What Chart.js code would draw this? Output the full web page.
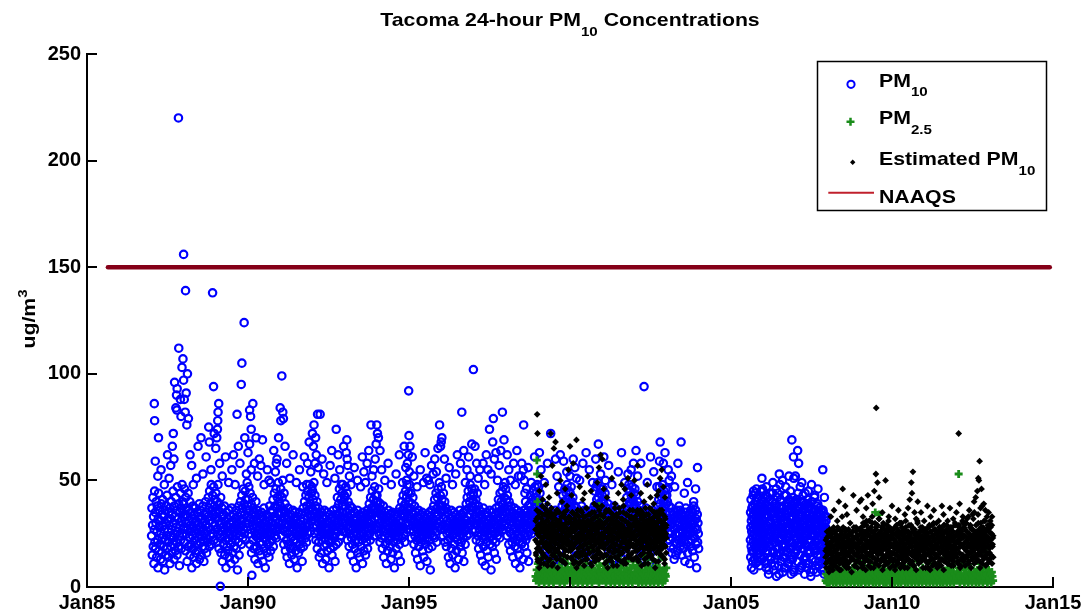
<!DOCTYPE html>
<html><head><meta charset="utf-8">
<script src="https://cdn.jsdelivr.net/npm/chart.js@4.4.1/dist/chart.umd.min.js"></script>
<style>html,body{margin:0;padding:0;background:#fff;}#wrap{width:1086px;height:613px;}</style>
</head><body><div id="wrap"><canvas id="c" width="1086" height="613"></canvas></div>
<script>
// ---------------- DATA ----------------
const xTicks = [1985, 1990, 1995, 2000, 2005, 2010, 2015];
const yTicks = [0, 50, 100, 150, 200, 250];
const naaqsDates = [1985.65, 2014.9];
const naaqsValues = [150, 150];

// PM10 samples (uniform sampling within each period)
const pm10_1987 = [24,37,15,29,42,19,33,11,27,45,21,35,18,30,40,14,26,38,22,9,32,44,17,28,36,20,31,13,25,39,16,34,23,41,12,29,19,33,27,8,36,22,30,15,38,24,43,18,31,26,14,35,21,29,37,11,24,32,19,40,27,16,34,23,45,20,30,13,38,25,33,17,42,28,21,36,15,47,26,32,19,39,24,10,35,29,44,22,37,18,31,48,25,40,33,27];
const pm10_1988 = [39,28,46,21,34,17,42,30,25,37,12,33,27,44,19,31,36,23,40,15,29,35,20,26,9,32,24,38,18,28,14,34,22,30,37,16,25,31,11,27,35,20,29,17,33,23,39,13,28,21,36,26,15,32,24,30,19,38,22,27,12,34,25,18,31,40,23,29,16,35,26,21,33,42,28,37,19,45,31,24,39,27,48,20,36,30,43,25,34,47,22,38,29,41,32,35];
const pm10_1989 = [44,33,27,40,21,36,48,25,31,18,39,29,35,23,42,16,30,26,37,12,33,28,20,34,24,38,15,27,31,22,9,29,35,19,26,32,17,28,23,36,14,30,25,20,33,11,27,37,21,31,16,24,34,28,19,26,13,32,22,29,36,18,25,30,8,27,33,21,38,15,28,24,31,40,26,35,20,43,29,37,23,46,32,27,39,25,34,45,22,41,30,36,28,49,33,38];
const pm10_1990 = [41,30,47,25,36,20,44,32,27,39,16,34,29,42,22,37,31,18,35,26,13,33,24,40,28,19,31,36,23,11,30,25,34,17,27,21,32,24,15,29,35,20,26,33,12,28,23,37,18,30,25,9,31,22,27,34,16,29,24,20,33,26,14,31,38,21,28,17,35,25,30,22,36,27,41,19,33,29,44,24,38,31,26,46,23,37,32,42,28,35,49,30,40,34,27,43];
const pm10_1991 = [38,46,29,35,24,42,31,50,27,36,20,44,33,26,39,17,30,35,22,28,14,32,25,37,20,29,33,11,26,31,18,34,23,28,15,30,24,36,19,27,32,13,29,22,35,17,25,31,21,28,9,33,24,30,16,27,35,20,26,23,31,18,29,34,22,12,28,25,37,19,32,26,40,27,35,23,43,30,21,38,28,45,33,25,36,42,29,48,34,39,26,44,31,37,47,33];
const pm10_1992 = [45,36,41,28,49,33,25,43,31,38,22,35,29,40,18,33,26,37,21,30,14,34,27,24,31,16,28,35,22,26,11,32,25,29,19,36,23,30,27,13,33,20,28,35,17,25,31,22,27,9,30,24,34,18,26,32,21,29,15,33,24,28,36,19,31,23,27,12,34,25,30,20,37,29,42,26,34,21,39,31,46,28,35,24,41,33,27,44,38,30,48,35,26,40,32,43];
const pm10_1993 = [42,31,38,47,26,35,29,44,22,33,40,27,36,19,31,25,38,28,15,34,23,30,37,20,27,32,12,29,24,35,18,26,31,22,9,33,25,28,36,16,30,21,27,34,14,29,24,31,19,26,33,22,28,11,35,25,30,17,27,32,23,29,15,34,26,21,31,36,18,28,24,33,30,39,25,35,22,42,28,37,31,27,45,34,29,41,36,24,38,47,32,43,27,35,40,33];
const pm10_1994 = [43,35,28,40,32,46,25,37,30,21,39,34,27,36,23,31,18,33,29,38,14,26,32,24,35,20,30,27,11,33,25,29,17,31,36,22,28,24,34,19,30,26,13,32,23,28,35,16,25,31,21,29,9,27,34,24,30,18,26,33,22,29,35,15,28,24,31,20,37,26,12,30,34,27,40,23,36,31,43,28,25,38,33,21,39,45,30,35,42,27,48,33,37,29,44,36];
const pm10_1995 = [40,48,33,37,27,44,31,23,39,35,29,42,26,34,20,31,38,24,28,16,35,30,22,33,27,13,30,25,36,19,29,32,23,10,28,34,21,30,26,35,17,27,31,24,14,29,33,22,28,20,32,25,30,12,34,27,23,31,18,26,35,22,29,8,33,25,28,36,19,30,24,32,27,38,31,23,41,29,35,26,44,33,21,37,42,30,46,34,28,39,49,31,36,43,27,38];
const pm10_1996 = [47,35,41,29,38,24,44,32,36,27,40,21,33,28,37,19,31,25,35,22,29,14,34,26,30,23,11,32,27,36,18,28,24,33,15,30,25,29,35,20,27,9,31,23,34,17,28,32,22,30,26,13,33,24,29,36,19,27,31,21,28,34,16,25,30,23,35,12,29,26,32,20,36,27,39,31,24,42,33,28,45,30,37,25,40,34,48,29,43,36,31,46,38,27,41,44];
const pm10_1997 = [43,37,30,46,26,39,33,41,22,35,29,44,31,24,38,18,33,27,36,21,30,15,34,25,28,32,12,29,23,37,19,26,31,24,34,10,27,30,21,35,17,28,33,25,14,31,23,29,36,20,27,32,8,30,24,35,19,28,22,33,26,31,16,29,25,34,21,37,13,28,32,24,35,29,41,26,38,31,23,44,33,28,40,36,30,45,34,39,27,47,32,42,37,29,49,35];
const pm10_1998 = [46,30,41,35,24,43,28,38,32,20,40,26,36,31,17,38,25,33,29,21,35,14,30,27,32,23,37,19,28,11,34,26,30,22,36,18,29,24,33,15,31,27,9,35,23,28,32,20,26,34,21,30,13,28,25,36,19,31,24,33,22,29,35,16,27,32,24,38,12,30,26,34,39,28,43,31,36,25,41,33,29,45,35,27,40,37,30,47,34,42,28,44,38,32,48,36];
const pm10_1999 = [41,33,47,26,38,30,44,22,36,29,34,19,31,27,39,17,30,24,36,21,32,28,14,33,25,35,20,29,23,37,11,31,27,34,18,30,26,33,22,28,15,35,24,31,9,29,21,34,27,32,19,25,36,23,30,13,28,33,20,26,34,22,29,31,17,27,35,24,30,12,32,25,38,29,43,33,27,40,35,30,46,31,37,28,44,36,32,48,39,29,42,34,45,38,31,40];
const pm10_2000 = [44,37,29,47,24,40,34,27,42,20,36,31,33,25,38,17,34,28,22,37,15,30,26,35,21,31,28,13,35,24,29,19,32,26,38,23,30,25,34,11,28,33,21,36,27,18,31,24,29,35,16,27,32,22,30,9,34,25,28,20,33,26,31,14,29,36,23,27,32,18,35,25,38,45,28,36,32,47,25,41,30,37,49,34,42,31,39,27,44,35,29,46,33,40,36,43];
const pm10_2001 = [41,32,46,28,39,24,36,30,44,20,34,29,30,37,19,33,26,39,17,29,24,35,21,31,27,15,33,23,28,36,12,30,25,34,22,38,26,31,18,29,35,23,27,10,32,24,30,20,28,33,21,36,25,16,30,27,34,19,29,23,35,26,31,13,28,32,22,37,25,29,18,33,36,42,29,46,26,38,32,48,27,40,34,45,30,39,43,28,35,47,31,41,37,33,44,38];
const pm10_2002 = [39,46,28,37,32,43,23,35,29,40,18,33,28,36,23,31,20,38,26,15,32,24,30,19,34,21,29,25,13,35,27,20,31,23,37,28,22,30,26,16,33,29,24,35,11,27,31,21,29,34,19,26,32,23,36,17,28,25,30,22,33,18,27,31,24,35,14,29,26,32,20,28,41,32,47,26,39,30,44,35,22,42,37,48,36,29,40,33,45,27,38,43,31,46,34,39];
const pm10_2003 = [43,34,40,28,46,31,25,38,22,35,29,19,32,26,37,16,30,23,34,18,28,32,13,27,21,33,25,15,31,20,36,24,29,17,34,22,30,38,25,32,19,36,27,21,34,15,29,23,26,31,18,28,33,22,12,30,25,35,20,27,24,29,16,32,26,21,34,28,11,25,31,19,27,33,22,29,35,17,30,24,38,26,14,31,23,28,36,20,32,9,27,34,21,30,25,18];
const pm10_2005 = [22,35,14,28,41,19,31,9,26,37,17,33,24,12,38,29,21,43,16,34,27,8,32,20,39,25,13,30,36,18,44,23,11,35,28,40,19,33,46,26,30,17,37,24,15,32,27,21,42,12,29,35,20,26,38,16,31,23,10,34,28,19,36,25,14,33,22,39,30,18,27,41,24,13,35,29,20,45,31,37];
const pm10_2006 = [31,18,40,25,12,36,22,43,9,29,34,16,38,21,27,6,33,19,41,24,14,30,37,11,26,35,20,44,17,28,8,32,23,39,13,27,36,21,5,30,18,42,25,15,34,10,28,38,22,33,16,40,26,12,35,19,29,7,37,24,31,14,43,20,27,9,34,17,39,23,30,11,36,25,18,41,28,13,32,45,21,6,38,26,15,33,42,19,29,8,35,24,40,16];
const pm10_2006b = [26,14,33,20,39,11,29,23,36,17,42,25,8,31,19,37,27,13,34,22,40,16,28,35,21,10,30,24,38,15,32,26,44,18,29,6,35,23,41,12,27,33,20,37,14,30,25,9,34,19,28,43,22,31,16,38,24,11,33,27,40,18,29,21,36,13,32,25,7,30,39,23];
const pm10_2007 = [34,22,41,17,29,38,12,26,44,19,33,8,37,24,30,15,40,21,27,10,35,18,31,43,23,13,36,28,6,32,20,39,25,14,34,9,29,41,17,26,37,11,30,22,38,16,27,5,33,24,40,13,28,19,35,8,31,25,42,18,29,12,36,21,27,7,34,23,39,15,30,10,26,37,19,32,14,28,24,36,11,31,20,9,27,35,17,25,6,30,22,13,28,18,33,24];
const pm10_2007b = [29,17,36,23,41,12,31,25,38,15,27,34,20,9,33,26,40,18,30,22,37,14,28,35,11,24,32,19,39,27,16,34,21,29,7,31,25,37,13,28,33,20,36,17,30,24,10,32,26,38,15,29,22,35,12,27,31,19,34,23,8,30,25,36,18,28,21,33,14,26,31,20];
// PM10 individually read points (high values)
const pm10PeakDates = [1987.09,1987.10,1987.22,1987.12,1987.20,1987.84,1987.85,1987.98,1987.95,1988.12,1988.00,1987.72,1987.80,1987.78,1987.76,1987.79,1988.15,1988.10,1988.00,1988.06,1988.90,1989.88,1988.54,1988.78,1988.93,1989.09,1989.07,1989.06,1989.05,1989.03,1989.00,1989.14,1989.30,1989.66,1989.79,1989.81,1990.15,1990.05,1990.08,1990.10,1990.25,1990.45,1990.05,1990.00,1990.20,1990.10,1990.12,1991.05,1991.00,1991.02,1991.08,1991.10,1990.90,1990.88,1991.85,1991.82,1992.16,1992.05,1992.00,1992.10,1992.03,1992.12,1992.08,1992.18,1992.24,1992.74,1993.07,1993.05,1993.08,1993.10,1993.70,1993.60,1993.90,1993.82,1994.00,1994.02,1994.05,1993.95,1994.99,1995.00,1995.03,1994.98,1994.95,1995.01,1994.92,1995.95,1996.02,1996.00,1995.98,1995.70,1995.75,1995.60,1995.65,1996.64,1996.70,1996.80,1996.90,1997.00,1997.62,1997.90,1997.50,1997.60,1997.70,1997.85,1997.80,1997.30,1997.45,1998.56,1998.50,1998.55,1998.58,1998.48,1998.60,1998.65,1998.62,1999.40,1999.55,1999.80,2000.10,1999.90,2000.00,2000.20,2000.88,2000.50,2001.97,2001.80,2002.30,2002.80,2002.78,2003.45,2003.96,2003.05,2003.08,2003.84,2003.60,2003.75,2005.93,2005.96,2006.50,2006.89,2006.94,2007.07,2007.10,2007.85,2006.52,2006.95,2007.00,2007.15,2007.30,2005.98];
const pm10PeakValues = [86,78,70,59,52,220,112,107,103,100,97,96,93,90,84,83,79,76,156,139,138,124,70,75,94,86,82,78,74,70,65,0.3,61,81,95,105,86,83,80,74,70,69,67,63,58,55,5.5,99,84,78,82,79,60,58,58,48,81,76,72,70,66,62,58,56,81,74,69,63,60,57,58,54,55,76,76,72,70,60,92,71,66,62,58,54,50,76,70,68,66,57,53,50,48,82,64,55,52,102,79,82,74,68,63,64,57,58,55,76,58,55,50,52,44,46,40,72,60,59,60,54,52,51,67,63,58,53,94,68,59,68,56,55,50,40,37,36,45,51,53,69,61,64,58,55,48,51,52,47,44,46];
// PM10 read points along the ragged top of the cloud
const pm10MidDates = [1987.30,1987.40,1987.50,1987.55,1987.60,1987.65,1987.68,1987.70,1987.90,1987.92,1988.02,1988.05,1988.08,1988.20,1988.25,1988.30,1988.45,1988.60,1988.70,1988.80,1988.85,1988.95,1988.40,1989.12,1989.20,1989.40,1989.50,1989.55,1989.60,1989.70,1989.75,1989.90,1989.95,1990.30,1990.35,1990.50,1990.60,1990.70,1990.80,1990.85,1990.95,1990.40,1990.65,1991.15,1991.20,1991.30,1991.40,1991.50,1991.60,1991.70,1991.75,1991.90,1991.95,1992.30,1992.35,1992.45,1992.55,1992.60,1992.70,1992.80,1992.85,1992.90,1992.97,1993.15,1993.20,1993.30,1993.40,1993.50,1993.55,1993.65,1993.75,1993.85,1993.98,1994.10,1994.15,1994.25,1994.35,1994.45,1994.60,1994.70,1994.80,1994.85,1994.90,1995.10,1995.15,1995.25,1995.35,1995.45,1995.50,1995.55,1995.80,1995.85,1995.90,1996.10,1996.15,1996.25,1996.35,1996.45,1996.50,1996.60,1996.75,1996.85,1996.95,1997.05,1997.10,1997.15,1997.20,1997.35,1997.40,1997.55,1997.65,1997.75,1997.95,1998.05,1998.10,1998.15,1998.25,1998.30,1998.35,1998.40,1998.70,1998.80,1998.90,1999.05,1999.10,1999.20,1999.30,1999.60,1999.65,1999.70,2000.15,2000.30,2000.40,2000.60,2000.70,2000.80,2000.95,2001.05,2001.10,2001.20,2001.30,2001.50,2001.60,2001.70,2001.90,2002.05,2002.10,2002.20,2002.40,2002.50,2002.60,2002.70,2002.90,2002.95,2003.15,2003.25,2003.35,2003.55,2003.65,2003.90,2005.70,2005.80,2006.10,2006.20,2006.30,2006.40,2006.60,2006.70,2006.80,2007.20,2007.40,2007.50,2007.60,2007.70,2007.90];
const pm10MidValues = [55,48,62,51,57,66,72,60,88,80,88,82,91,62,57,48,66,53,61,68,55,72,51,58,52,49,55,62,48,66,58,70,53,52,60,48,55,49,64,54,70,57,50,66,58,51,62,49,55,47,61,68,54,60,53,49,57,64,51,62,55,48,66,52,48,56,50,47,61,49,64,52,67,64,55,50,58,48,53,62,49,66,56,61,52,47,55,49,63,51,60,54,65,60,51,56,48,53,62,58,49,61,67,66,58,51,55,48,62,53,60,50,69,62,55,50,58,48,64,52,56,49,61,63,55,49,58,52,47,62,56,50,58,55,49,60,53,61,50,57,48,54,63,49,55,64,52,58,49,61,54,47,58,63,52,47,58,44,49,46,45,42,47,44,49,46,50,47,52,49,45,48,43,46,42];

// Estimated PM10 samples
const est_1999 = [22,31,15,27,36,18,25,12,33,20,29,9,24,35,17,28,21,13,32,26,38,16,23,30,11,27,19,34,24,14,29,21,36,18,26,10,31,23,17,35,20,28,13,33,25,19,37,22,15,30,24,11,27,34,18,26,21,32,14,29,23,36,17,25,9,31,20,28,35,16,24,13,30,22,27,19,33,12,26,21,29,15,34,23,18,28,11,32,25,20,36,14,27,22,30,17,24,33,19,26];
const est_1999b = [27,16,32,21,13,29,24,35,18,26,11,30,22,34,15,28,20,37,25,14,31,19,27,33,12,24,29,17,35,21,26,10,32,23,28,16,34,20,30,13,25,36,18,27,22,31,15,29,24,33,19,26,12,35,21,28,17,30,23,38,14,27,20,32,25];
const est_2000 = [25,17,32,21,28,13,35,23,19,30,11,26,34,20,27,15,31,24,9,29,22,36,18,25,14,33,21,28,16,30,23,12,27,35,19,26,31,17,24,10,29,22,33,15,28,20,37,24,13,31,18,26,34,21,16,29,23,11,30,25,19,35,27,14,22,32,17,28,24,12,33,20,26,15,30,38,21,27,18,25,13,31,23,29,16,34,22,19,28,24];
const est_2000b = [20,30,14,26,35,18,28,23,32,12,27,21,34,16,29,24,11,31,25,19,36,22,28,15,33,26,20,30,13,27,37,23,18,31,25,29,16,34,21,27,10,32,24,19,29,35,22,14,30,26,33,17,28,23,36,20,31,15,25,38];
const est_2001 = [21,29,14,33,24,18,30,11,26,35,20,27,15,31,23,9,28,22,36,17,25,13,32,19,27,24,12,30,21,34,16,26,29,18,23,37,14,28,20,31,25,10,33,22,17,27,30,15,24,35,19,26,12,29,21,32,16,28,23,38,18,25,13,31,22,27,11,34,20,26,17,30,24,14,29,21,33,19,27,15,32,23,28,16,25,36,20,13,30,24];
const est_2001b = [28,19,33,23,15,30,26,36,12,27,21,32,18,29,24,35,14,27,22,31,10,26,33,20,28,17,34,23,30,13,25,37,19,28,24,32,16,29,21,35,11,27,23,31,18,34,26,20,30,15,28,36,22,25,33,13,29,19,32,24];
const est_2002 = [26,19,33,22,29,14,31,24,17,36,21,27,12,30,25,18,34,20,28,15,32,23,10,27,35,19,25,30,16,22,33,13,28,24,37,18,26,21,31,14,29,23,11,34,20,27,17,32,25,19,30,22,15,28,36,21,26,13,31,24,18,33,20,29,9,27,23,35,16,25,30,19,22,28,12,32,26,17,34,21,27,15,31,23,20,36,18,25,29,14,30,22,26,11,33,24,19,28,16,23];
const est_2002b = [23,32,17,28,20,35,13,27,30,22,25,36,15,29,21,33,18,26,31,11,28,24,34,19,27,30,16,23,37,20,29,14,32,25,27,18,35,22,30,12,26,33,21,28,17,31,24,36,19,27,15,30,23,34,20,28,13,32,25,29];
const est_2008 = [14,22,9,18,26,12,20,16,24,7,19,27,13,21,17,11,25,15,23,8,19,28,12,17,22,10,26,14,20,16,24,9,18,21,13,27,15,11,23,19,8,25,16,12,22,18,28,14,20,10,24,17,13,26,21,9,19,15,23,11,27,16,20,12,25,18,14,22,7,24,17,21,13,19,28,10,23,15,20,26,12,18,24,16,9,22,19,14,27,21];
const est_2008b = [17,11,23,15,20,26,9,18,24,13,21,16,27,10,19,23,14,25,17,12,22,28,15,19,8,24,20,13,26,17,21,11,23,18,15,27,12,20,24,16,9,22,18,25,14,21,13,26,19,16,23,10,20,28,15,18,24,12,21,17];
const est_2009 = [18,25,11,21,28,15,23,9,19,30,14,24,17,12,26,20,8,22,29,16,13,25,19,27,10,21,31,15,24,18,12,28,20,16,33,22,14,26,9,19,24,17,30,13,21,27,11,23,18,29,15,20,25,10,32,22,16,19,26,13,24,28,17,8,21,30,14,23,19,27,12,25,18,22,15,29,20,11,26,17,24,14,21,28,9,19,23,16,27,13];
const est_2009b = [21,14,27,17,23,10,25,19,29,13,22,18,31,15,24,20,12,27,16,22,9,26,19,30,14,23,18,25,11,21,28,16,24,13,20,32,17,22,26,12,19,24,15,29,21,10,25,18,23,14,27,20,16,31,12,22,19,26,15,24];
const est_2010 = [16,23,10,20,27,13,22,18,8,25,15,21,29,12,19,24,17,11,26,20,14,30,22,9,18,25,16,28,13,21,24,10,19,27,15,23,12,20,31,17,14,26,22,9,18,24,13,29,20,16,11,25,19,23,15,28,12,21,17,26,10,22,14,27,19,24,16,8,21,25,13,30,18,23,11,20,26,15,22,17,28,12,19,24,14,21,9,26,18,23];
const est_2010b = [19,12,25,16,22,28,10,20,24,15,27,18,13,23,19,30,14,21,26,11,22,17,25,9,20,28,15,23,18,13,26,21,16,24,12,29,19,22,15,27,10,21,25,17,23,14,20,31,16,24,12,19,26,18,22,13,28,17,21,15];
const est_2011 = [19,13,24,9,21,27,15,18,25,11,22,16,28,12,20,23,8,17,26,14,21,19,29,10,24,16,13,22,27,18,11,25,20,15,30,23,9,19,26,14,21,17,12,28,22,16,24,10,19,27,13,23,18,25,8,21,29,15,20,12,26,17,23,14,19,31,22,11,25,16,20,13,27,24,18,10,22,28,15,19,26,12,23,17,21,14,29,20,16,24];
const est_2011b = [22,16,27,12,20,25,18,9,23,29,15,21,26,13,19,24,17,30,11,22,27,15,20,14,25,18,23,10,28,16,21,26,13,19,24,17,29,12,22,20,15,27,18,11,25,21,14,23,28,16,19,13,26,22,10,24,18,30,15,21];
const est_2012 = [21,14,26,18,11,24,29,16,22,9,19,27,13,25,20,31,15,23,12,28,18,24,10,21,30,17,26,14,22,19,33,12,25,20,16,28,23,9,18,27,14,24,21,32,17,11,26,19,23,15,29,22,13,25,18,34,20,16,27,12,24,21,30,15,19,26,11,23,28,17,22,14,25,31,19,10,24,27,16,21,29,13,23,26,18,12,22,28,15,20,25,11,19,23,14];
const est_2012b = [18,25,12,22,28,16,20,10,26,23,14,30,19,24,13,27,21,17,32,15,23,11,25,20,29,16,22,13,27,19,24,35,14,21,26,12,23,18,30,15,25,9,22,28,17,20,24,13,31,18,26,21,15,23,11,27,19,29,16,22,25,14,33,20,24];
const estPeakDates = [1998.98,1998.99,1999.40,1999.50,1999.55,2000.00,2000.20,2000.90,2000.95,2001.60,2001.80,2002.70,2002.85,2002.90,2008.35,2008.47,2008.80,2009.00,2009.05,2009.45,2009.50,2009.51,2009.55,2009.80,2010.60,2010.62,2010.65,2010.70,2010.80,2012.07,2012.60,2012.65,2012.68,2012.70,2012.72,2012.75,2012.80,2012.85];
const estPeakValues = [81,72,72,65,68,66,69,56,62,48,51,43,55,47,40,46,43,40,41,45,53,84,49,50,49,44,54,35,40,72,42,45,51,50,59,37,38,39];
const estMidDates = [1999.05,1999.10,1999.15,1999.25,1999.30,1999.45,1999.60,1999.70,1999.75,1999.85,1999.95,2000.05,2000.10,2000.30,2000.40,2000.55,2000.65,2000.75,2000.85,2001.00,2001.05,2001.15,2001.30,2001.40,2001.50,2001.65,2001.70,2001.90,2002.00,2002.10,2002.20,2002.30,2002.40,2002.50,2002.60,2002.75,2002.80,2002.95,1999.35,2000.45,2008.10,2008.20,2008.30,2008.55,2008.60,2008.70,2008.90,2009.10,2009.20,2009.30,2009.40,2009.60,2009.70,2009.90,2010.00,2010.10,2010.20,2010.30,2010.40,2010.50,2010.75,2010.90,2011.00,2011.10,2011.20,2011.30,2011.45,2011.60,2011.70,2011.80,2011.90,2012.00,2012.10,2012.20,2012.30,2012.40,2012.50,2012.55,2012.90,2012.95,2013.00,2013.05,2013.10,2009.25,2010.55,2011.55,2008.45,2012.78];
const estMidValues = [45,52,41,48,39,57,44,50,40,46,55,43,58,47,41,52,45,39,49,60,46,42,51,39,44,41,46,43,50,57,44,40,48,42,39,45,51,42,42,44,33,36,31,38,34,30,36,33,37,31,39,42,35,33,38,32,36,30,34,37,32,35,31,38,33,36,31,34,29,37,32,35,39,33,30,36,34,40,36,33,35,31,29,43,41,38,33,46];

// PM2.5 samples
const pm25_1999 = [5,3,8,4,11,6,2,7,5,9,3,6,14,4,8,2,5,7,3,10,6,4,8,2,5,12,3,7,4,6,9,2,5,3,8,16,4,6,3,7,5,10,2,6,4,8,3,13,5,7,2,4,9,6,3,11,5,8,4,7];
const pm25_2000 = [6,3,9,4,7,2,5,12,3,8,6,4,10,2,7,5,3,15,6,4,8,2,5,9,3,7,4,11,6,2,8,5,3,18,7,4,6,2,9,5,3,22,7,4,12,6,3,8,5,2,10,4,7,3,6];
const pm25_2001 = [4,8,3,6,11,5,2,7,4,9,3,6,13,5,2,8,4,7,3,10,5,2,6,4,8,3,14,5,7,2,6,4,9,3,5,11,2,7,4,6,3,8,5,12,2,6,4,9,3,7,5,2,10,4,6];
const pm25_2002 = [5,9,3,7,4,12,6,2,8,5,3,10,4,7,2,6,15,3,5,8,4,2,7,5,11,3,6,4,9,2,5,7,3,13,4,6,2,8,5,3,10,6,4,7,2,5,9,3,6,4,14,5,2,7,4,8,3,6,5,9];
const pm25_2008 = [3,6,2,5,8,4,2,7,3,5,10,4,2,6,3,8,5,2,4,7,3,9,5,2,6,4,3,7,2,5,11,4,3,6,2,8,4,5,3,7,2,6,4,9,3,5,2,7,4,3,12,5,2,6,4];
const pm25_2009 = [4,7,2,5,9,3,6,4,12,2,5,8,3,6,4,2,15,5,3,7,4,10,2,6,3,8,5,2,20,4,7,3,6,2,9,5,3,13,4,6,2,8,3,5,7,2,4,11,6,3,5,2,8,4,6];
const pm25_2010 = [3,6,4,8,2,5,7,3,11,4,2,6,5,9,3,2,7,4,6,3,14,5,2,8,4,3,6,2,10,5,4,7,3,2,6,9,4,3,5,2,8,4,6,3,12,2,5,7,3,4,6,2,9,5,3];
const pm25_2011 = [5,3,7,2,6,4,9,3,5,2,8,4,6,3,11,2,5,7,4,3,6,2,10,5,3,7,4,2,6,8,3,5,2,13,4,6,3,7,2,5,9,4,3,6,2,8,5,3,7,4,2,11,6,3,5];
const pm25_2012 = [4,7,3,9,5,2,6,4,12,3,5,8,2,6,4,3,10,5,2,7,4,3,9,6,2,5,14,3,7,4,2,6,8,3,5,2,11,4,6,3,7,2,9,5,3,4,16,6,2,5,8,3,4,6,2,7,5,3];
const pm25PeakDates = [1998.97,1998.98,1998.99,2000.85,2000.90,2001.00,2009.48,2009.60,2012.07];
const pm25PeakValues = [59.5,53,40,30,38,33,35,34,53];

// ---------------- BUILD ----------------
function spread(t0, t1, vals) { const dt = (t1 - t0) / vals.length; return vals.map((v, i) => ({ x: t0 + (i + 0.5) * dt, y: v })); }
function pairs(xs, ys) { return xs.map((x, i) => ({ x: x, y: ys[i] })); }

const pm10Points = [].concat(
  spread(1987,1988,pm10_1987), spread(1988,1989,pm10_1988), spread(1989,1990,pm10_1989),
  spread(1990,1991,pm10_1990), spread(1991,1992,pm10_1991), spread(1992,1993,pm10_1992),
  spread(1993,1994,pm10_1993), spread(1994,1995,pm10_1994), spread(1995,1996,pm10_1995),
  spread(1996,1997,pm10_1996), spread(1997,1998,pm10_1997), spread(1998,1999,pm10_1998),
  spread(1999,2000,pm10_1999), spread(2000,2001,pm10_2000), spread(2001,2002,pm10_2001),
  spread(2002,2003,pm10_2002), spread(2003,2004,pm10_2003),
  spread(2005.6,2006,pm10_2005), spread(2006,2007,pm10_2006), spread(2006,2007,pm10_2006b),
  spread(2007,2007.97,pm10_2007), spread(2007,2007.97,pm10_2007b),
  pairs(pm10MidDates, pm10MidValues), pairs(pm10PeakDates, pm10PeakValues));
const pm25Points = [].concat(
  spread(1998.92,2000,pm25_1999), spread(2000,2001,pm25_2000), spread(2001,2002,pm25_2001), spread(2002,2003,pm25_2002),
  spread(2007.93,2009,pm25_2008), spread(2009,2010,pm25_2009), spread(2010,2011,pm25_2010), spread(2011,2012,pm25_2011), spread(2012,2013.15,pm25_2012),
  pairs(pm25PeakDates, pm25PeakValues));
const estPoints = [].concat(
  spread(1998.92,2000,est_1999), spread(1998.92,2000,est_1999b), spread(2000,2001,est_2000), spread(2000,2001,est_2000b),
  spread(2001,2002,est_2001), spread(2001,2002,est_2001b), spread(2002,2003,est_2002), spread(2002,2003,est_2002b),
  spread(2007.93,2009,est_2008), spread(2007.93,2009,est_2008b), spread(2009,2010,est_2009), spread(2009,2010,est_2009b),
  spread(2010,2011,est_2010), spread(2010,2011,est_2010b), spread(2011,2012,est_2011), spread(2011,2012,est_2011b),
  spread(2012,2013.15,est_2012), spread(2012,2013.15,est_2012b),
  pairs(estMidDates, estMidValues), pairs(estPeakDates, estPeakValues));
const naaqsPoints = pairs(naaqsDates, naaqsValues);

// ---------------- DRAW ----------------
const FONT = '"Liberation Sans", Arial, Helvetica, sans-serif';
const SX = 1.12;
const BLUE = '#0000ff', GREEN = '#1a8c1a', RED = '#850018';
function fontFor(s) { return 'bold ' + (s.k ? 13.5 : 19) + 'px ' + FONT; }
function richWidth(ctx, segs) { let w = 0; segs.forEach(s => { ctx.font = fontFor(s); w += ctx.measureText(s.t).width * SX; }); return w; }
function drawRich(ctx, segs, x, y, align) {
  let cx = align === 'center' ? x - richWidth(ctx, segs) / 2 : x;
  ctx.textBaseline = 'alphabetic'; ctx.textAlign = 'left'; ctx.fillStyle = '#000';
  segs.forEach(s => {
    ctx.font = fontFor(s);
    const dy = s.k === 1 ? 9.5 : s.k === 2 ? -8 : 0;
    ctx.save(); ctx.translate(cx, y + dy); ctx.scale(SX, 1); ctx.fillText(s.t, 0, 0); ctx.restore();
    cx += ctx.measureText(s.t).width * SX;
  });
}

const decor = {
  id: 'decor',
  afterDraw(chart) {
    const { ctx, chartArea: a, scales: { x, y } } = chart;
    ctx.save();
    ctx.strokeStyle = '#000'; ctx.lineWidth = 2;
    yTicks.forEach(v => { const py = Math.round(y.getPixelForValue(v)); ctx.beginPath(); ctx.moveTo(a.left, py); ctx.lineTo(a.left + 10, py); ctx.stroke(); });
    xTicks.forEach(v => { const px = Math.round(x.getPixelForValue(v)); ctx.beginPath(); ctx.moveTo(px, a.bottom); ctx.lineTo(px, a.bottom - 10); ctx.stroke(); });
    drawRich(ctx, [{ t: 'Tacoma 24-hour PM' }, { t: '10', k: 1 }, { t: ' Concentrations' }], (a.left + a.right) / 2, 26, 'center');
    ctx.save(); ctx.translate(35, 319); ctx.rotate(-Math.PI / 2);
    drawRich(ctx, [{ t: 'ug/m' }, { t: '3', k: 2 }], 0, 0, 'center');
    ctx.restore();
    ctx.fillStyle = '#fff'; ctx.fillRect(817.5, 61.5, 229, 149);
    ctx.strokeStyle = '#000'; ctx.lineWidth = 1.5; ctx.strokeRect(817.5, 61.5, 229, 149);
    ctx.strokeStyle = BLUE; ctx.lineWidth = 2; ctx.beginPath(); ctx.arc(851, 84.3, 3.6, 0, Math.PI * 2); ctx.stroke();
    ctx.strokeStyle = GREEN; ctx.lineWidth = 2.5; ctx.beginPath(); ctx.moveTo(846.5, 121.7); ctx.lineTo(854.5, 121.7); ctx.moveTo(850.5, 117.7); ctx.lineTo(850.5, 125.7); ctx.stroke();
    ctx.fillStyle = '#000'; ctx.beginPath(); ctx.moveTo(852.7, 159.6); ctx.lineTo(855.4, 162.3); ctx.lineTo(852.7, 165); ctx.lineTo(850, 162.3); ctx.closePath(); ctx.fill();
    ctx.strokeStyle = '#c0202c'; ctx.lineWidth = 2; ctx.beginPath(); ctx.moveTo(828.3, 192.7); ctx.lineTo(874, 192.7); ctx.stroke();
    drawRich(ctx, [{ t: 'PM' }, { t: '10', k: 1 }], 879, 86.7, 'left');
    drawRich(ctx, [{ t: 'PM' }, { t: '2.5', k: 1 }], 879, 124.3, 'left');
    drawRich(ctx, [{ t: 'Estimated PM' }, { t: '10', k: 1 }], 879, 165, 'left');
    drawRich(ctx, [{ t: 'NAAQS' }], 879, 203.3, 'left');
    ctx.restore();
  }
};

const tickFont = { family: FONT, size: 20, weight: 'bold' };
new Chart(document.getElementById('c'), {
  type: 'scatter',
  data: {
    datasets: [
      { label: 'PM10', data: pm10Points, pointStyle: 'circle', pointRadius: 3.7, borderColor: BLUE, backgroundColor: 'rgba(0,0,0,0)', pointBorderWidth: 2.2, borderWidth: 2.2, order: 4, clip: false },
      { label: 'PM2.5', data: pm25Points, pointStyle: 'cross', pointRadius: 4, borderColor: GREEN, backgroundColor: GREEN, pointBorderWidth: 2.8, borderWidth: 2.8, order: 3, clip: false },
      { label: 'Estimated PM10', data: estPoints, pointStyle: 'rectRot', pointRadius: 3.4, borderColor: '#000', backgroundColor: '#000', pointBorderWidth: 0, borderWidth: 0, order: 2, clip: false },
      { label: 'NAAQS', data: naaqsPoints, showLine: true, pointRadius: 0, borderColor: RED, borderWidth: 4.5, borderCapStyle: 'round', order: 1 }
    ]
  },
  options: {
    responsive: false, animation: false, events: [],
    layout: { padding: { top: 54, right: 33, left: 0, bottom: 0 } },
    plugins: { legend: { display: false }, tooltip: { enabled: false }, title: { display: false } },
    scales: {
      x: {
        type: 'linear', min: 1985, max: 2015,
        ticks: { stepSize: 5, autoSkip: false, maxRotation: 0, padding: 4, color: '#000', font: tickFont, callback: v => 'Jan' + String(v).slice(2) },
        grid: { display: false, drawTicks: false }, border: { display: true, color: '#000', width: 2 },
        afterFit: s => { s.height = 26; }
      },
      y: {
        min: 0, max: 250,
        ticks: { stepSize: 50, padding: 6, color: '#000', font: tickFont },
        grid: { display: false, drawTicks: false }, border: { display: true, color: '#000', width: 2 },
        afterFit: s => { s.width = 87; }
      }
    }
  },
  plugins: [decor]
});
</script></body></html>
